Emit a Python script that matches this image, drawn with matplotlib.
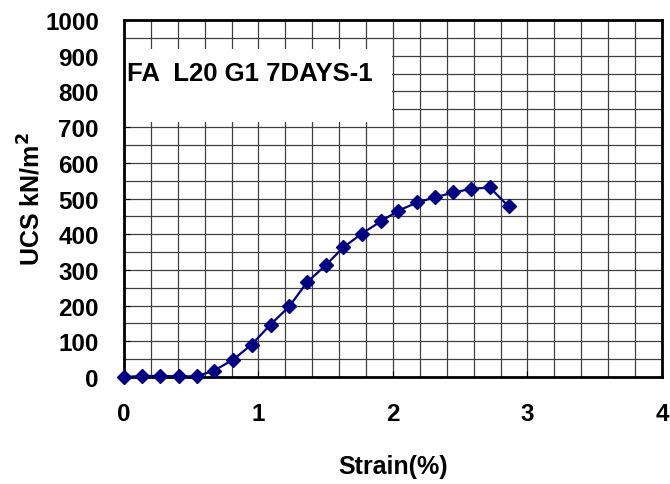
import matplotlib
matplotlib.use("Agg")
import matplotlib.pyplot as plt
from matplotlib.patches import Rectangle
import numpy as np

strain = [0.0, 0.137, 0.27, 0.41, 0.54, 0.67, 0.81, 0.95, 1.09, 1.23, 1.36,
          1.50, 1.63, 1.77, 1.91, 2.04, 2.18, 2.31, 2.45, 2.58, 2.72, 2.86]
ucs = [0, 3, 3, 2, 2, 18, 48, 91, 147, 198, 265,
       313, 363, 402, 436, 466, 489, 503, 517, 527, 531, 478]

title_text = "FA  L20 G1 7DAYS-1"

plt.rcParams["font.family"] = ["Liberation Sans", "DejaVu Sans"]
plt.rcParams["font.weight"] = "bold"

fig = plt.figure(figsize=(6.7, 4.85), dpi=100)
ax = fig.add_axes([0.185, 0.2206, 0.803, 0.736])

ax.set_xlim(0, 4)
ax.set_ylim(0, 1000)
ax.set_xticks(np.arange(0, 5, 1))
ax.set_yticks(np.arange(0, 1100, 100))
ax.set_xticks(np.arange(0, 4.01, 0.2), minor=True)
ax.set_yticks(np.arange(0, 1001, 50), minor=True)
ax.grid(which="both", color="#404040", linewidth=0.9)
ax.set_axisbelow(True)
ax.tick_params(which="major", direction="in", length=4, labelsize=17.5, pad=18)
ax.tick_params(which="minor", length=0)
for lab in ax.get_xticklabels() + ax.get_yticklabels():
    lab.set_fontweight("bold")
for sp in ax.spines.values():
    sp.set_linewidth(2)

# white box behind the label
ax.add_patch(Rectangle((0, 0.714), 0.498, 0.205, transform=ax.transAxes,
                       facecolor="white", edgecolor="none", zorder=2))
ax.text(0.006, 0.852, title_text, transform=ax.transAxes, fontsize=18.5,
        fontweight="bold", va="center", ha="left", zorder=3)

ax.plot(strain, ucs, color="#000080", marker="D", markersize=7, linewidth=1.6,
        clip_on=False, zorder=4)

ax.set_xlabel("Strain(%)", fontsize=18, fontweight="bold", labelpad=21)
ax.set_ylabel("UCS kN/m$^\\mathbf{2}$", fontsize=18, fontweight="bold", labelpad=0)

fig.savefig("out.png", dpi=100)
